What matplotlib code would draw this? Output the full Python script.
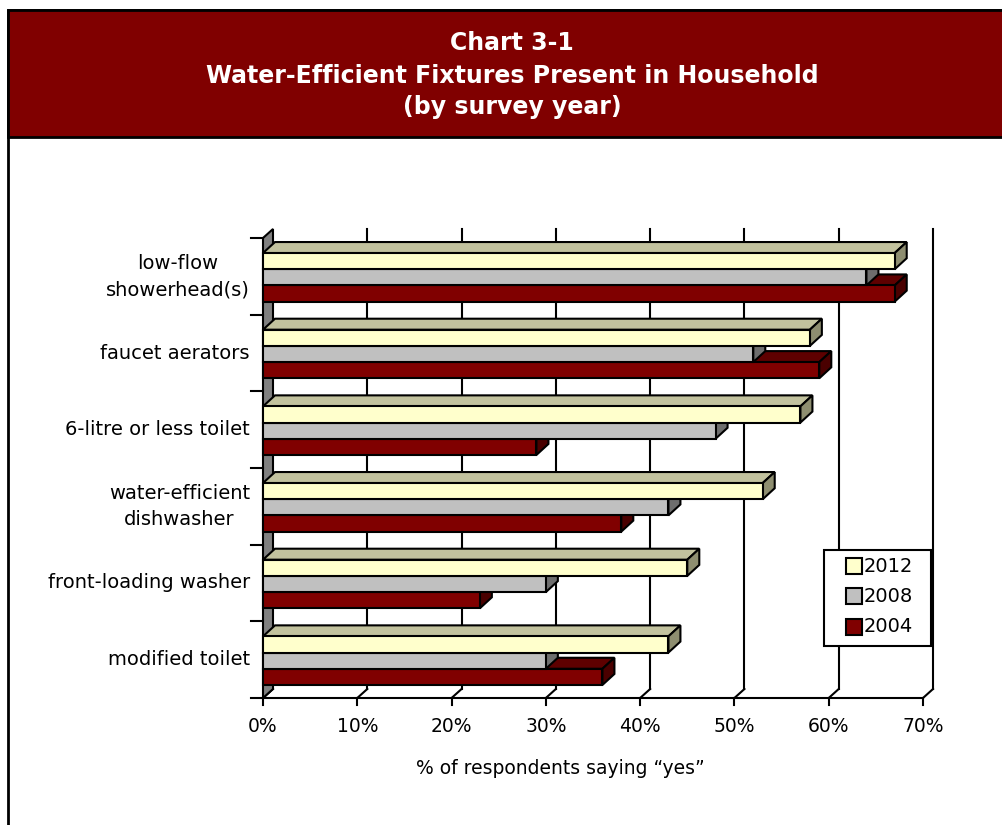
import numpy as np
import matplotlib
matplotlib.use("Agg")
from matplotlib import pyplot as plt
from matplotlib.patches import Polygon, Rectangle

plt.rcParams["font.family"] = ["DejaVu Sans"]

# data (% of respondents saying "yes")
categories = ["low-flow\nshowerhead(s)", "faucet aerators", "6-litre or less toilet",
              "water-efficient\ndishwasher", "front-loading washer", "modified toilet"]
years = ["2012", "2008", "2004"]
pct_2012 = [67, 58, 57, 53, 45, 43]
pct_2008 = [64, 52, 48, 43, 30, 30]
pct_2004 = [67, 59, 29, 38, 23, 36]
xticks = [0, 10, 20, 30, 40, 50, 60, 70]
xticklabels = ["0%", "10%", "20%", "30%", "40%", "50%", "60%", "70%"]

W, H = 1003, 825
def fx(px):
    return px / W
def fy(py):
    return 1 - py / H

fig = plt.figure(figsize=(W / 100, H / 100), dpi=100)

# outer frame + title band
fig.patches.append(Rectangle((fx(8), fy(830)), fx(1010) - fx(8), fy(10) - fy(830),
                             transform=fig.transFigure, facecolor="white",
                             edgecolor="black", lw=2, zorder=-2))
fig.patches.append(Rectangle((fx(8), fy(137)), fx(1010) - fx(8), fy(10) - fy(137),
                             transform=fig.transFigure, facecolor="#800000",
                             edgecolor="black", lw=2, zorder=-1))
for txt, yy in [("Chart 3-1", 43), ("Water-Efficient Fixtures Present in Household", 76),
                ("(by survey year)", 107)]:
    fig.text(fx(512), fy(yy), txt, color="white", weight="bold", fontsize=17,
             ha="center", va="center")

# front plane of the 3-D plot
ax = fig.add_axes([fx(263), fy(698), fx(923) - fx(263), fy(238) - fy(698)])
ax.set_xlim(0, 70)
ax.set_ylim(0, 6)
ax.axis("off")

pxx = (923 - 263) / 70.0
pxy = (698 - 238) / 6.0
dx = 10 / pxx   # wall depth offset in data units
dy = 9 / pxy
bdx = 12 / pxx  # bar depth offset
bdy = 11 / pxy
lw = 1.5

# back wall gridlines
for t in xticks[1:]:
    ax.plot([t + dx, t + dx], [dy, 6 + dy], color="black", lw=lw, clip_on=False, zorder=1)
# floor front edge, diagonals, ticks
ax.plot([0, 70], [0, 0], color="black", lw=lw, clip_on=False, zorder=1)
for t, lab in zip(xticks, xticklabels):
    ax.plot([t, t + dx], [0, dy], color="black", lw=lw, clip_on=False, zorder=1)
    ax.plot([t, t], [0, -7 / pxy], color="black", lw=lw, clip_on=False, zorder=1)
    ax.text(t, -29 / pxy, lab, ha="center", va="center", fontsize=13.5)

# left side wall
ax.add_patch(Polygon([(0, 0), (dx, dy), (dx, 6 + dy), (0, 6)], closed=True,
                     facecolor="#808080", edgecolor="black", lw=lw, clip_on=False, zorder=2))
for k in range(7):
    ax.plot([-12 / pxx, 0], [k, k], color="black", lw=lw, clip_on=False, zorder=2)

ax.text(31.5, -70 / pxy, "% of respondents saying \u201cyes\u201d", ha="center", va="center",
        fontsize=13.5)

front_cols = {"2012": "#FFFFCC", "2008": "#C0C0C0", "2004": "#800000"}
top_cols = {"2012": "#C2C29E", "2008": "#9A9A9A", "2004": "#5E0000"}
side_cols = {"2012": "#8E8E70", "2008": "#6E6E6E", "2004": "#4A0000"}
series = {"2012": pct_2012, "2008": pct_2008, "2004": pct_2004}

bh = 16.2 / pxy
for i, cat in enumerate(categories):
    yc = 6 - i - 0.5
    ax.text(-13 / pxx, yc, cat, ha="right", va="center", multialignment="center",
            fontsize=14, linespacing=1.5)
    gc = yc - 1 / pxy
    # bottom bar first so the upper one covers its top face
    for j in [2, 1, 0]:
        yr = years[j]
        v = series[yr][i]
        y0 = gc + 1.5 * bh - (j + 1) * bh
        y1 = y0 + bh
        ax.add_patch(Polygon([(0, y1), (bdx, y1 + bdy), (v + bdx, y1 + bdy), (v, y1)], closed=True,
                             facecolor=top_cols[yr], edgecolor="black", lw=lw, clip_on=False, zorder=3))
        ax.add_patch(Polygon([(v, y0), (v + bdx, y0 + bdy), (v + bdx, y1 + bdy), (v, y1)], closed=True,
                             facecolor=side_cols[yr], edgecolor="black", lw=lw, clip_on=False, zorder=3))
        ax.add_patch(Rectangle((0, y0), v, bh, facecolor=front_cols[yr], edgecolor="black",
                               lw=lw, clip_on=False, zorder=3))

# legend box drawn by hand to match the reference spacing
fig.patches.append(Rectangle((fx(824), fy(646)), fx(931) - fx(824), fy(550) - fy(646),
                             transform=fig.transFigure, facecolor="white", edgecolor="black",
                             lw=1.5, zorder=5))
for yr, yy in zip(years, [566, 596, 627]):
    fig.patches.append(Rectangle((fx(846), fy(yy + 8)), fx(862) - fx(846), fy(yy - 8) - fy(yy + 8),
                                 transform=fig.transFigure, facecolor=front_cols[yr],
                                 edgecolor="black", lw=1.5, zorder=6))
    fig.text(fx(864), fy(yy), yr, ha="left", va="center", fontsize=14, zorder=6)

plt.savefig("out.png", dpi=100)
